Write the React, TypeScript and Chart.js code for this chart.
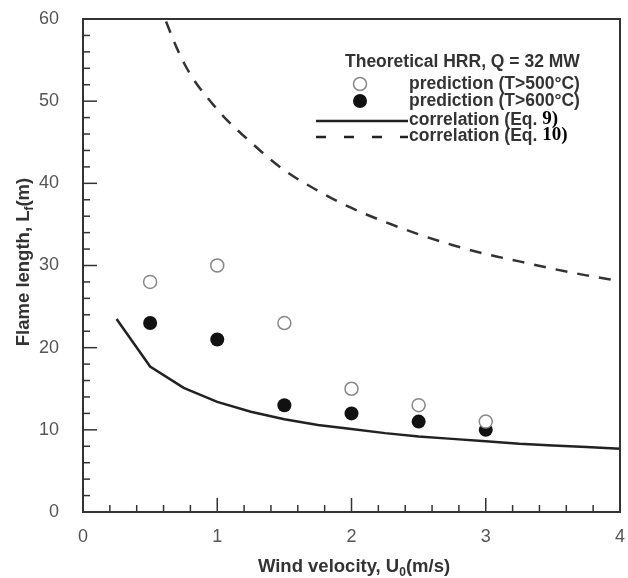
import { useEffect, useRef } from "react";
import { Chart, registerables } from "chart.js";

Chart.register(...registerables);

// ---- data ----
const velocities = [0.5, 1, 1.5, 2, 2.5, 3];
const pred500 = [28, 30, 23, 15, 13, 11];
const pred600 = [23, 21, 13, 12, 11, 10];

const eq9U = [0.25, 0.5, 0.75, 1, 1.25, 1.5, 1.75, 2, 2.25, 2.5, 2.75, 3, 3.25, 3.5, 3.75, 4];
const eq9L = [23.5, 17.7, 15.1, 13.4, 12.2, 11.3, 10.6, 10.1, 9.6, 9.2, 8.9, 8.6, 8.3, 8.1, 7.9, 7.7];

const eq10U = [0.5, 0.75, 1, 1.25, 1.5, 1.75, 2, 2.25, 2.5, 2.75, 3, 3.25, 3.5, 3.75, 4];
const eq10L = [64.7, 54.7, 49.0, 45.0, 41.6, 39.1, 37.0, 35.3, 33.8, 32.5, 31.4, 30.5, 29.6, 28.8, 28.1];

const xTickValues = [0, 1, 2, 3, 4];
const xTickLabels = ["0", "1", "2", "3", "4"];
const yTickValues = [0, 10, 20, 30, 40, 50, 60];
const xMinorStep = 0.2;
const yMinorStep = 2;

const legendTitle = "Theoretical HRR, Q = 32 MW";
const legendLabels = ["prediction (T>500°C)", "prediction (T>600°C)", "correlation (Eq. ", "correlation (Eq. "];
const legendSerifTails = ["", "", "9)", "10)"];

const SANS = '"Liberation Sans", Arial, Helvetica, sans-serif';
const SERIF = '"Liberation Serif", "Times New Roman", serif';

const decorPlugin = {
  id: "decor",
  afterDraw(chart: any) {
    const ctx = chart.ctx as CanvasRenderingContext2D;
    const area = chart.chartArea;
    const xs = chart.scales.x;
    const ys = chart.scales.y;
    ctx.save();
    // inward ticks
    ctx.strokeStyle = "#333";
    ctx.lineWidth = 1.5;
    const nx = Math.round((xs.max - xs.min) / xMinorStep);
    for (let i = 0; i <= nx; i++) {
      const v = xs.min + i * xMinorStep;
      const major = xTickValues.some((t) => Math.abs(t - v) < 1e-6);
      const px = xs.getPixelForValue(v);
      ctx.beginPath();
      ctx.moveTo(px, area.bottom);
      ctx.lineTo(px, area.bottom - (major ? 14 : 7));
      ctx.stroke();
    }
    const ny = Math.round((ys.max - ys.min) / yMinorStep);
    for (let i = 0; i <= ny; i++) {
      const v = ys.min + i * yMinorStep;
      const major = yTickValues.some((t) => Math.abs(t - v) < 1e-6);
      const py = ys.getPixelForValue(v);
      ctx.beginPath();
      ctx.moveTo(area.left, py);
      ctx.lineTo(area.left + (major ? 14 : 7), py);
      ctx.stroke();
    }
    // frame
    ctx.lineWidth = 2;
    ctx.strokeStyle = "#333";
    ctx.strokeRect(area.left, area.top, area.right - area.left, area.bottom - area.top);

    // x tick labels
    ctx.fillStyle = "#555";
    ctx.font = `18px ${SANS}`;
    ctx.textAlign = "center";
    ctx.textBaseline = "middle";
    xTickValues.forEach((v, i) => {
      ctx.fillText(xTickLabels[i], xs.getPixelForValue(v), area.bottom + 25);
    });

    // axis titles with subscripts
    ctx.fillStyle = "#333";
    const drawSub = (parts: [string, boolean][], cx: number, cy: number) => {
      const big = `bold 18.5px ${SANS}`;
      const small = `bold 12px ${SANS}`;
      let w = 0;
      for (const [t, sub] of parts) {
        ctx.font = sub ? small : big;
        w += ctx.measureText(t).width;
      }
      let x = cx - w / 2;
      ctx.textBaseline = "middle";
      ctx.textAlign = "left";
      for (const [t, sub] of parts) {
        ctx.font = sub ? small : big;
        ctx.fillText(t, x, sub ? cy + 6 : cy);
        x += ctx.measureText(t).width;
      }
    };
    drawSub([["Wind velocity, U", false], ["0", true], ["(m/s)", false]], 354, 567);
    ctx.save();
    ctx.translate(24, 262);
    ctx.rotate(-Math.PI / 2);
    drawSub([["Flame length, L", false], ["f", true], ["(m)", false]], 0, 0);
    ctx.restore();

    // legend
    ctx.fillStyle = "#333";
    ctx.font = `bold 17.5px ${SANS}`;
    ctx.textAlign = "left";
    ctx.textBaseline = "middle";
    ctx.fillText(legendTitle, 345, 62);
    const rowsY = [84, 101, 120, 136];
    const textX = 409;
    ctx.beginPath();
    ctx.arc(360, rowsY[0], 6.5, 0, Math.PI * 2);
    ctx.fillStyle = "#fff";
    ctx.fill();
    ctx.strokeStyle = "#888";
    ctx.lineWidth = 1.5;
    ctx.stroke();
    ctx.beginPath();
    ctx.arc(360, rowsY[1], 7, 0, Math.PI * 2);
    ctx.fillStyle = "#111";
    ctx.fill();
    ctx.strokeStyle = "#222";
    ctx.lineWidth = 2.5;
    ctx.beginPath();
    ctx.moveTo(316, rowsY[2] + 1);
    ctx.lineTo(408, rowsY[2] + 1);
    ctx.stroke();
    ctx.setLineDash([10, 18]);
    ctx.beginPath();
    ctx.moveTo(316, rowsY[3] + 1);
    ctx.lineTo(408, rowsY[3] + 1);
    ctx.stroke();
    ctx.setLineDash([]);
    for (let i = 0; i < legendLabels.length; i++) {
      ctx.font = `bold 17.5px ${SANS}`;
      ctx.fillStyle = "#333";
      ctx.fillText(legendLabels[i], textX, rowsY[i]);
      if (legendSerifTails[i]) {
        const w = ctx.measureText(legendLabels[i]).width;
        ctx.font = `bold 19px ${SERIF}`;
        ctx.fillStyle = "#000";
        ctx.fillText(legendSerifTails[i], textX + w, rowsY[i] - 1);
      }
    }
    ctx.restore();
  },
};

export default function App() {
  const ref = useRef<HTMLCanvasElement | null>(null);
  useEffect(() => {
    if (!ref.current) return;
    const chart = new Chart(ref.current, {
      type: "scatter",
      data: {
        datasets: [
          {
            label: "correlation (Eq. 9)",
            data: eq9U.map((u, i) => ({ x: u, y: eq9L[i] })),
            showLine: true,
            borderColor: "#222",
            borderWidth: 2.5,
            pointRadius: 0,
            tension: 0,
          },
          {
            label: "correlation (Eq. 10)",
            data: eq10U.map((u, i) => ({ x: u, y: eq10L[i] })),
            showLine: true,
            borderColor: "#333",
            borderWidth: 2.5,
            borderDash: [12, 10],
            pointRadius: 0,
            cubicInterpolationMode: "monotone",
          },
          {
            label: "prediction (T>500°C)",
            data: velocities.map((u, i) => ({ x: u, y: pred500[i] })),
            pointRadius: 6.5,
            pointBackgroundColor: "#fff",
            pointBorderColor: "#888",
            pointBorderWidth: 1.5,
          },
          {
            label: "prediction (T>600°C)",
            data: velocities.map((u, i) => ({ x: u, y: pred600[i] })),
            pointRadius: 7,
            pointBackgroundColor: "#111",
            pointBorderColor: "#111",
            pointBorderWidth: 0,
          },
        ],
      },
      options: {
        animation: false,
        responsive: false,
        layout: { padding: { left: 0, top: 19, right: 5, bottom: 0 } },
        plugins: { legend: { display: false }, tooltip: { enabled: false } },
        scales: {
          x: {
            type: "linear",
            min: 0,
            max: 4,
            afterFit: (s: any) => {
              s.height = 66;
              s.paddingLeft = 0;
              s.paddingRight = 0;
            },
            grid: { display: false },
            border: { display: false },
            ticks: { display: false },
          },
          y: {
            type: "linear",
            min: 0,
            max: 60,
            afterFit: (s: any) => {
              s.width = 83;
              s.paddingTop = 0;
              s.paddingBottom = 0;
            },
            afterBuildTicks: (s: any) => {
              s.ticks = yTickValues.map((v) => ({ value: v }));
            },
            grid: { display: false },
            border: { display: false },
            ticks: { padding: 16, color: "#555", font: { family: SANS, size: 18 } },
          },
        },
      },
      plugins: [decorPlugin],
    });
    return () => chart.destroy();
  }, []);
  return (
    <div style={{ position: "fixed", left: 0, top: 0, width: 628, height: 578, background: "#fff" }}>
      <canvas ref={ref} width={628} height={578} />
    </div>
  );
}
